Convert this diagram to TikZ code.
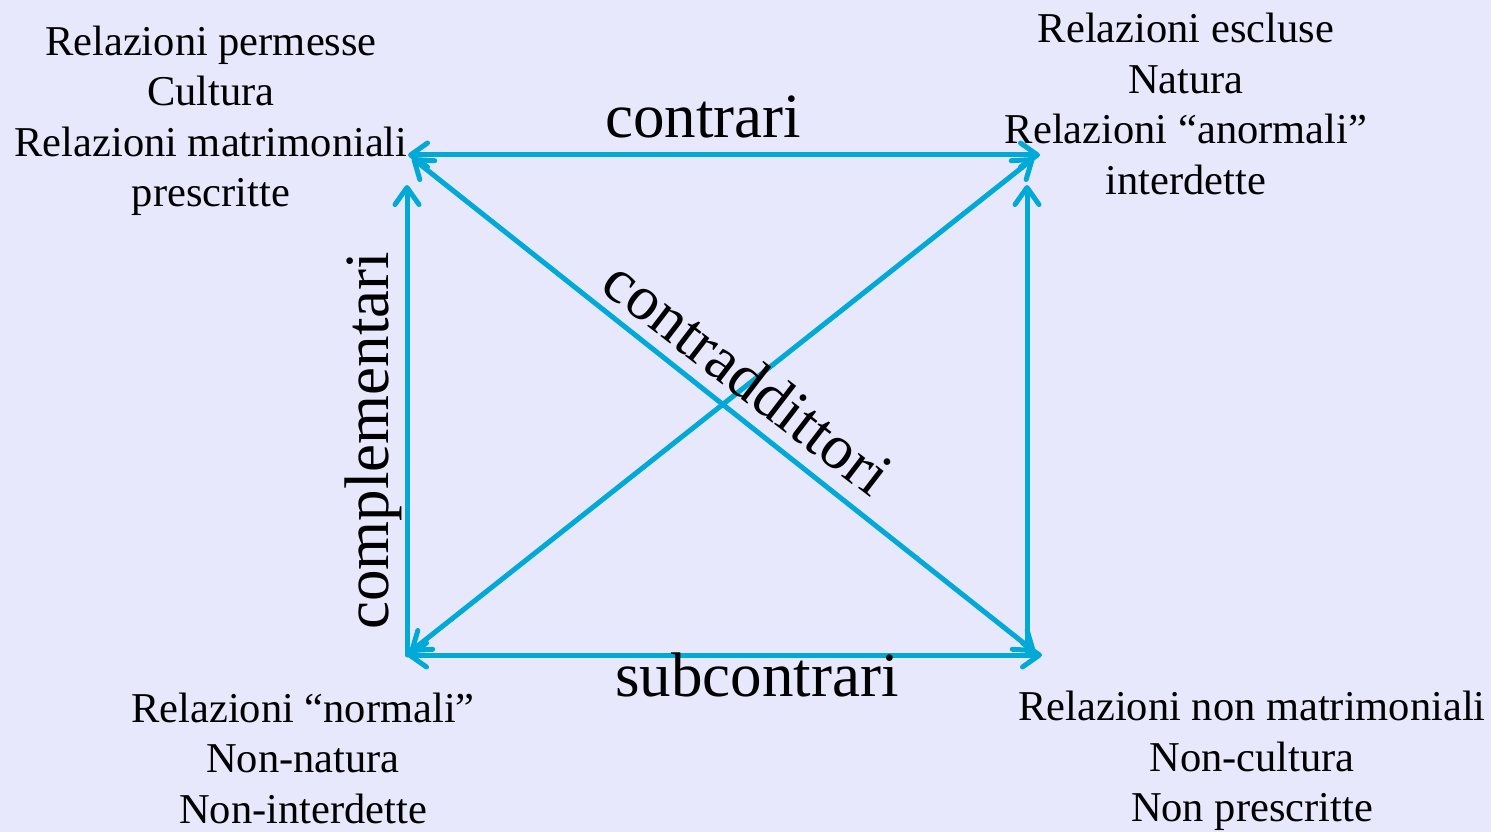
\documentclass[tikz,border=0pt]{standalone}
\usepackage{fontspec}
\setmainfont{Liberation Serif}
\usetikzlibrary{arrows.meta}
\definecolor{bgcol}{RGB}{232,232,252}
\definecolor{linecol}{RGB}{0,169,214}
\tikzset{
  conn/.style={draw=linecol, line width=5pt, line cap=round, line join=round,
    >={Straight Barb[length=17pt,width=24pt,round]}},
  corner/.style={align=center, font=\fontsize{42.5}{50.5}\selectfont, inner sep=0pt, text=black},
  rel/.style={font=\fontsize{63}{75}\selectfont, inner sep=0pt, text=black}
}
\begin{document}
\begin{tikzpicture}[x=1pt,y=-1pt]
\useasboundingbox[fill=bgcol] (0,0) rectangle (1491,832);
% endpoints
\coordinate (tl) at (408,155);
\coordinate (tr) at (1040,155);
\coordinate (bl) at (407,655);
\coordinate (br) at (1042,655);
\coordinate (lvtop) at (407,185);
\coordinate (rvtop) at (1027,185);
\coordinate (rvbot) at (1027,655);
\coordinate (d1s) at (412,158);
\coordinate (d1e) at (1035,652);
\coordinate (d2s) at (410,652);
\coordinate (d2e) at (1034,158);
% connectors
\draw[conn,<->] (tl) -- (tr);
\draw[conn,<->] (bl) -- (br);
\draw[conn,->] (bl) -- (lvtop);
\draw[conn,->] (rvbot) -- (rvtop);
\draw[conn,<->] (d1s) -- (d1e);
\draw[conn,<->] (d2s) -- (d2e);
% corner texts
\node[corner] (tltext) at (211,121) {Relazioni permesse\\Cultura\\Relazioni matrimoniali\\prescritte};
\node[corner] (trtext) at (1186,104) {Relazioni escluse\\Natura\\Relazioni “anormali”\\interdette};
\node[corner] (bltext) at (303,758) {Relazioni “normali”\\Non-natura\\Non-interdette};
\node[corner] (brtext) at (1252,761) {Relazioni non matrimoniali\\Non-cultura\\Non prescritte};
% relation labels
\node[rel, anchor=base] (contrari) at (703,138) {contrari};
\node[rel, anchor=base] (subcontrari) at (757,696) {subcontrari};
\node[rel, anchor=base, rotate=90] (compl) at (388,441) {complementari};
\node[rel, rotate=-37.5] (contrad) at (748,377) {contraddittori};
\end{tikzpicture}
\end{document}
